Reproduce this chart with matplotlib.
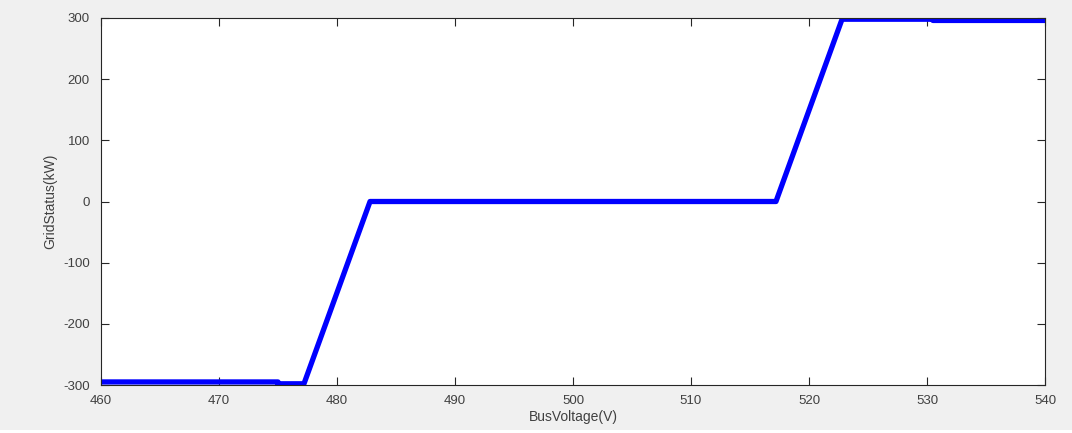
import matplotlib
matplotlib.use("Agg")
import matplotlib.pyplot as plt
from matplotlib.patches import Rectangle

bus_voltage = [460, 475, 475, 477.2, 482.8, 488.5, 511.3, 517.2, 522.8, 530.5, 530.5, 540]
grid_status = [-295, -295, -298, -298, 0, 0, 0, 0, 298, 298, 296, 296]
x_ticks = [460, 470, 480, 490, 500, 510, 520, 530, 540]
y_ticks = [-300, -200, -100, 0, 100, 200, 300]

plt.rcParams['font.family'] = ['Liberation Sans', 'DejaVu Sans']
plt.rcParams['axes.unicode_minus'] = False
fig = plt.figure(figsize=(10.72, 4.33), dpi=100, facecolor='#f0f0f0')
fig.patches.append(Rectangle((0, 0), 1, 3/433, transform=fig.transFigure,
                             facecolor='white', edgecolor='none', zorder=-1))
ax = fig.add_axes([101/1072, 1 - 385/433, (1045-101)/1072, (385-18)/433])
ax.plot(bus_voltage, grid_status, color='#0000ff', linewidth=3.8, solid_capstyle='butt')
ax.set_xlim(460, 540)
ax.set_ylim(-300, 300)
ax.set_xticks(x_ticks)
ax.set_yticks(y_ticks)
ax.tick_params(direction='in', length=6, width=0.8, colors='#262626', labelcolor='#404040',
               labelsize=9.5, top=True, right=True)
ax.tick_params(axis='x', pad=7)
ax.tick_params(axis='y', pad=8)
for s in ax.spines.values():
    s.set_color('#262626')
    s.set_linewidth(0.8)
ax.set_xlabel('BusVoltage(V)', fontsize=10, color='#404040', labelpad=2)
ax.set_ylabel('GridStatus(kW)', fontsize=10, color='#404040', labelpad=4)
fig.savefig('out.png', dpi=100, facecolor='#f0f0f0')
